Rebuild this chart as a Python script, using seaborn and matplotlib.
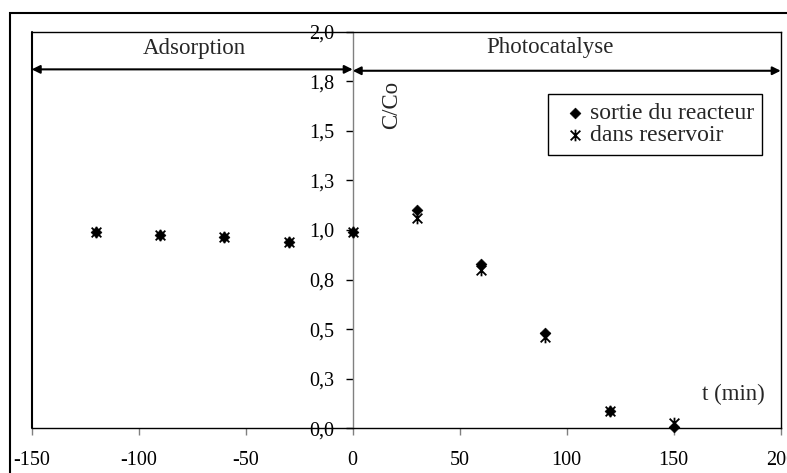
#!/usr/bin/env python3
"""
C/Co versus time: adsorption in the dark, then photocatalysis.
"""

import pandas as pd
import matplotlib.pyplot as plt
import seaborn as sns
from matplotlib.path import Path
from matplotlib.patches import Rectangle

# Data
temps = [-120, -90, -60, -30, 0, 30, 60, 90, 120, 150]
sortie_reacteur = [0.99, 0.975, 0.965, 0.94, 0.99, 1.10, 0.83, 0.48, 0.085, 0.008]
dans_reservoir = [0.99, 0.975, 0.965, 0.94, 0.99, 1.06, 0.80, 0.46, 0.085, 0.028]

y_ticks = [0, 0.25, 0.5, 0.75, 1.0, 1.25, 1.5, 1.75, 2.0]
y_labels = ["0,0", "0,3", "0,5", "0,8", "1,0", "1,3", "1,5", "1,8", "2,0"]
x_ticks = [-150, -100, -50, 0, 50, 100, 150, 200]

df = pd.DataFrame({"t": temps, "sortie": sortie_reacteur, "reservoir": dans_reservoir})

# Set style
sns.set_style("white")
plt.rcParams['font.family'] = ['Liberation Serif', 'DejaVu Serif']

# Excel-like star marker: an X with a vertical bar
star = Path([(-1, -1), (1, 1), (-1, 1), (1, -1), (0, -1.2), (0, 1.2)],
            [Path.MOVETO, Path.LINETO, Path.MOVETO, Path.LINETO, Path.MOVETO, Path.LINETO])

fig = plt.figure(figsize=(7.87, 4.73), dpi=100)
ax = fig.add_axes([0.0403, 0.0945, 0.9517, 0.8385])

sns.scatterplot(data=df, x="t", y="sortie", ax=ax, marker="D", color="black",
                edgecolor="black", linewidth=0.5, s=30, clip_on=False, zorder=5,
                label="sortie du reacteur")
sns.scatterplot(data=df, x="t", y="reservoir", ax=ax, marker=star, color="black",
                edgecolor="black", linewidth=1.3, s=70, clip_on=False, zorder=6,
                label="dans reservoir")

ax.set_xlim(-150, 200)
ax.set_ylim(0, 2.0)
ax.set_xticks(x_ticks)
ax.set_xticklabels([str(v) for v in x_ticks])
ax.set_yticks(y_ticks)
ax.set_yticklabels(y_labels)
ax.set_xlabel("")
ax.set_ylabel("")

# y axis sits at t = 0
ax.spines['left'].set_position(('data', 0))
ax.spines['left'].set_color('#808080')
ax.spines['left'].set_linewidth(1.0)
for side in ['top', 'right', 'bottom']:
    ax.spines[side].set_color('black')
    ax.spines[side].set_linewidth(1.0)
ax.axvline(-150, color='black', lw=1.5, clip_on=False, zorder=3)

ax.tick_params(axis='x', direction='out', length=5, width=1, pad=11.5,
               labelsize=14.5, bottom=True, colors='black')
ax.tick_params(axis='y', direction='out', length=5, width=1, pad=8,
               labelsize=14.5, left=True, colors='black')
ax.tick_params(axis='x', color='#808080')

# phase arrows and labels
ax.annotate("", xy=(-150, 1.81), xytext=(0, 1.81),
            arrowprops=dict(arrowstyle='<|-|>', color='black', lw=1.5,
                            mutation_scale=12, shrinkA=0, shrinkB=0),
            annotation_clip=False)
ax.annotate("", xy=(0, 1.803), xytext=(200, 1.803),
            arrowprops=dict(arrowstyle='<|-|>', color='black', lw=1.5,
                            mutation_scale=12, shrinkA=0, shrinkB=0),
            annotation_clip=False)
ax.text(-74, 1.915, "Adsorption", ha='center', va='center', fontsize=16.5)
ax.text(92, 1.92, "Photocatalyse", ha='center', va='center', fontsize=16.5)
ax.text(18, 1.63, "C/Co", rotation=90, ha='center', va='center', fontsize=16.5)
ax.text(178, 0.17, "t (min)", ha='center', va='center', fontsize=16.5)

leg = ax.legend(loc='upper right', bbox_to_anchor=(0.975, 0.843), borderaxespad=0,
                fontsize=17, frameon=True, fancybox=False, edgecolor='black',
                framealpha=1, handlelength=1.6, handletextpad=-0.2,
                labelspacing=0.05, borderpad=0.35)
leg.get_frame().set_linewidth(1.0)

# outer chart border (cropped at right and bottom)
fig.add_artist(Rectangle((10 / 787, -0.2), 1.2, 1.2 - 13 / 473,
                         transform=fig.transFigure, fill=False,
                         edgecolor='black', lw=1.5))

plt.savefig("out.png", dpi=100)
plt.close()
